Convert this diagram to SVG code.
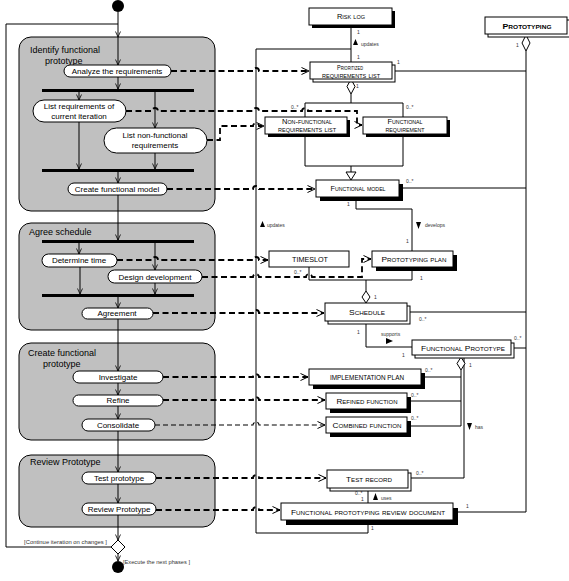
<svg xmlns="http://www.w3.org/2000/svg" width="569" height="581" viewBox="0 0 569 581">
<defs>
<style>
.grp{fill:#c0c0c0;stroke:#000;stroke-width:1}
.pill{fill:#fff;stroke:#000;stroke-width:1}
.bar{fill:#000}
.flow{fill:none;stroke:#000;stroke-width:1}
.obj{fill:none;stroke:#000;stroke-width:1.8;stroke-dasharray:6 3.5}
.objt{fill:none;stroke:#000;stroke-width:1.1;stroke-dasharray:5 3}
.assoc{fill:none;stroke:#000;stroke-width:1}
.box{fill:#fff;stroke:#000;stroke-width:1}
.back{fill:#fff;stroke:#000;stroke-width:1}
.shadow{fill:#000}
.dia{fill:#fff;stroke:#000;stroke-width:1}
.t{font-family:"Liberation Sans",Arial,sans-serif;font-size:8px;fill:#000}
.a{text-anchor:middle}
.gt{font-family:"Liberation Sans",Arial,sans-serif;font-size:9px;fill:#000}
.c{font-family:"Liberation Sans",Arial,sans-serif;font-size:8px;font-variant:small-caps;text-anchor:middle;fill:#000}
.c2{font-family:"Liberation Sans",Arial,sans-serif;font-size:7px;font-variant:small-caps;text-anchor:middle;fill:#000}
.m{font-family:"Liberation Sans",Arial,sans-serif;font-size:5px;fill:#333}
.g{font-family:"Liberation Sans",Arial,sans-serif;font-size:5.5px;fill:#333}
</style>
<marker id="fa" viewBox="0 0 6 6" refX="6" refY="3" markerWidth="6" markerHeight="6" orient="auto" markerUnits="userSpaceOnUse"><path d="M0.5,0.5 L6,3 L0.5,5.5" fill="none" stroke="#000" stroke-width="0.8"/></marker>
<marker id="oa" viewBox="0 0 8 8" refX="8" refY="4" markerWidth="8" markerHeight="8" orient="auto" markerUnits="userSpaceOnUse"><path d="M0.5,0.5 L8,4 L0.5,7.5" fill="none" stroke="#000" stroke-width="1"/></marker>
</defs>
<rect width="569" height="581" fill="#fff"/>

<!-- swimlane groups -->
<g id="group-identify">
<rect class="grp" x="19" y="37" width="196" height="174" rx="12"/>
<text class="gt" x="30" y="53">Identify functional</text>
<text class="gt" x="45" y="64">prototype</text>
</g>
<g id="group-agree">
<rect class="grp" x="19" y="223" width="196" height="107" rx="12"/>
<text class="gt" x="29" y="235">Agree schedule</text>
</g>
<g id="group-create">
<rect class="grp" x="19" y="343" width="196" height="97" rx="12"/>
<text class="gt" x="28" y="356">Create functional</text>
<text class="gt" x="43" y="367">prototype</text>
</g>
<g id="group-review">
<rect class="grp" x="19" y="455" width="196" height="72" rx="12"/>
<text class="gt" x="30" y="465">Review Prototype</text>
</g>

<g id="connectors">
<!-- control flow -->
<path class="flow" d="M111,547 H6 V24 H118"/>
<path class="flow" d="M118,12 V37" marker-end="url(#fa)"/>
<path class="flow" d="M118,37 V65" marker-end="url(#fa)"/>
<path class="flow" d="M118,77 V89" marker-end="url(#fa)"/>
<path class="flow" d="M79,92 V100" marker-end="url(#fa)"/>
<path class="flow" d="M155,92 V128" marker-end="url(#fa)"/>
<path class="flow" d="M79,122 V169" marker-end="url(#fa)"/>
<path class="flow" d="M155,153 V169" marker-end="url(#fa)"/>
<path class="flow" d="M118,172 V183" marker-end="url(#fa)"/>
<path class="flow" d="M118,195 V240" marker-end="url(#fa)"/>
<path class="flow" d="M79,243 V254" marker-end="url(#fa)"/>
<path class="flow" d="M155,243 V270" marker-end="url(#fa)"/>
<path class="flow" d="M80,267 V294" marker-end="url(#fa)"/>
<path class="flow" d="M155,283 V294" marker-end="url(#fa)"/>
<path class="flow" d="M118,297 V308" marker-end="url(#fa)"/>
<path class="flow" d="M118,319 V371" marker-end="url(#fa)"/>
<path class="flow" d="M118,383 V395" marker-end="url(#fa)"/>
<path class="flow" d="M118,406 V419" marker-end="url(#fa)"/>
<path class="flow" d="M118,431 V472" marker-end="url(#fa)"/>
<path class="flow" d="M118,484 V503" marker-end="url(#fa)"/>
<path class="flow" d="M118,515 V540" marker-end="url(#fa)"/>
<path class="flow" d="M118,554 V561" marker-end="url(#fa)"/>

<!-- associations -->
<path class="assoc" d="M351,25 V62"/>
<path class="assoc" d="M351,49 H256 V533 H368 V520"/>
<path class="assoc" d="M395,71 H526"/>
<path class="assoc" d="M526,51 V512 H458"/>
<path class="assoc" d="M351,94 V103"/>
<path class="assoc" d="M305,103 H403 V166 H305 Z"/>
<path class="assoc" d="M351,166 V172"/>
<polygon class="dia" points="346,172 356,172 351,180"/>
<path class="assoc" d="M403,188 H526"/>
<path class="assoc" d="M356,201 V209 H412 V251"/>
<path class="assoc" d="M309,267 V280 H412 V271"/>
<path class="assoc" d="M366,280 V291"/>
<path class="assoc" d="M410,312 H526"/>
<path class="assoc" d="M366,324 V347 H412"/>
<path class="assoc" d="M514,348 H526"/>
<path class="assoc" d="M461,370 V426"/>
<path class="assoc" d="M425,377 H461"/>
<path class="assoc" d="M411,401 H461"/>
<path class="assoc" d="M411,426 H461"/>
<path class="assoc" d="M464,358 V478 H411"/>
<path class="assoc" d="M368,491 V503"/>
<polygon class="dia" points="526,35 530,43 526,51 522,43"/>
<polygon class="dia" points="351,79 355,86.5 351,94 347,86.5"/>
<polygon class="dia" points="366,291 370,297 366,303 362,297"/>
<polygon class="dia" points="461,357 465,363.5 461,370 457,363.5"/>

<!-- object flows -->
<path class="obj" d="M171,71 H253 A3,3 0 0 1 259,71 H309" marker-end="url(#oa)"/>
<path class="obj" d="M126,111 H152 A3,3 0 0 1 158,111 H253 A3,3 0 0 1 259,111 H302 A3,3 0 0 1 308,111 H357 V125 H362" marker-end="url(#oa)"/>
<path class="obj" d="M207,140 H220 V126 H253 A3,3 0 0 1 259,126 H264" marker-end="url(#oa)"/>
<path class="obj" d="M167,189 H253 A3,3 0 0 1 259,189 H315" marker-end="url(#oa)"/>
<path class="obj" d="M117,260 H152 A3,3 0 0 1 158,260 H253 A3,3 0 0 1 259,260 H268" marker-end="url(#oa)"/>
<path class="obj" d="M202,277 H253 A3,3 0 0 1 259,277 H306 A3,3 0 0 1 312,277 H362 V259 H371" marker-end="url(#oa)"/>
<path class="obj" d="M153,313 H253 A3,3 0 0 1 259,313 H324" marker-end="url(#oa)"/>
<path class="obj" d="M163,377 H253 A3,3 0 0 1 259,377 H308" marker-end="url(#oa)"/>
<path class="obj" d="M163,400 H253 A3,3 0 0 1 259,400 H325" marker-end="url(#oa)"/>
<path class="objt" d="M155,425 H253 A3,3 0 0 1 259,425 H325" marker-end="url(#oa)"/>
<path class="obj" d="M156,478 H253 A3,3 0 0 1 259,478 H326" marker-end="url(#oa)"/>
<path class="obj" d="M156,510 H253 A3,3 0 0 1 259,510 H280" marker-end="url(#oa)"/>

<!-- association labels & multiplicities -->
<polygon points="353,45 355.5,39 358,45" fill="#000"/>
<text class="m" x="361" y="46">updates</text>
<text class="m" x="357" y="34">1</text>
<text class="m" x="357" y="59">1</text>
<text class="m" x="397" y="64">1</text>
<text class="m" x="356" y="88">1</text>
<text class="m" x="291" y="109">0..*</text>
<text class="m" x="406" y="109">0..*</text>
<text class="m" x="406" y="183">0..*</text>
<text class="m" x="347" y="206">1</text>
<text class="m" x="516" y="47">1</text>
<polygon points="260,227 262.5,221 265,227" fill="#000"/>
<text class="m" x="267" y="227">updates</text>
<polygon points="416,222 421,222 418.5,229" fill="#000"/>
<text class="m" x="425" y="227">develops</text>
<text class="m" x="406" y="243">1</text>
<text class="m" x="294" y="274">0..*</text>
<text class="m" x="420" y="280">1</text>
<text class="m" x="374" y="299">1</text>
<text class="m" x="419" y="321">0..*</text>
<text class="m" x="357" y="334">1</text>
<text class="m" x="381" y="336">supports</text>
<polygon points="386,338 386,344 393,341" fill="#000"/>
<text class="m" x="402" y="357">1</text>
<text class="m" x="514" y="340">0..*</text>
<text class="m" x="469" y="367">1</text>
<text class="m" x="425" y="372">0..*</text>
<text class="m" x="411" y="397">0..*</text>
<text class="m" x="411" y="420">0..*</text>
<polygon points="467,423 472,423 469.5,430" fill="#000"/>
<text class="m" x="475" y="429">has</text>
<text class="m" x="416" y="475">0..*</text>
<text class="m" x="355" y="495">0..*</text>
<text class="m" x="361" y="501">1</text>
<polygon points="373,500 375.5,493 378,500" fill="#000"/>
<text class="m" x="381" y="500">uses</text>
<text class="m" x="466" y="508">1</text>
<text class="m" x="371" y="530">1</text>

<!-- guards -->
<text class="g" x="24" y="544" textLength="83" lengthAdjust="spacingAndGlyphs">[Continue iteration on changes ]</text>
<text class="g" x="123" y="564" textLength="67" lengthAdjust="spacingAndGlyphs">[Execute the next phases ]</text>
</g>

<!-- activity nodes -->
<g id="start"><circle cx="118" cy="6" r="6" fill="#000"/></g>
<g id="bar-fork1"><rect class="bar" x="42" y="89" width="152" height="3"/></g>
<g id="bar-join1"><rect class="bar" x="42" y="169" width="152" height="3"/></g>
<g id="bar-fork2"><rect class="bar" x="42" y="240" width="152" height="3"/></g>
<g id="bar-join2"><rect class="bar" x="42" y="294" width="152" height="3"/></g>
<g id="act-analyze"><rect class="pill" x="64" y="65" width="107" height="12" rx="6"/><text class="t a" x="117" y="74">Analyze the requirements</text></g>
<g id="act-listreq"><rect class="pill" x="33" y="100" width="93" height="22" rx="11"/><text class="t a" x="79" y="109">List requirements of</text><text class="t a" x="79" y="119">current iteration</text></g>
<g id="act-listnf"><rect class="pill" x="104" y="128" width="103" height="25" rx="12.5"/><text class="t a" x="155" y="138">List non-functional</text><text class="t a" x="155" y="148">requirements</text></g>
<g id="act-createfm"><rect class="pill" x="68" y="183" width="99" height="12" rx="6"/><text class="t a" x="117" y="192">Create functional model</text></g>
<g id="act-determine"><rect class="pill" x="42" y="254" width="75" height="13" rx="6.5"/><text class="t a" x="79" y="263">Determine time</text></g>
<g id="act-design"><rect class="pill" x="108" y="270" width="94" height="13" rx="6.5"/><text class="t a" x="155" y="280">Design development</text></g>
<g id="act-agreement"><rect class="pill" x="82" y="308" width="71" height="11" rx="5.5"/><text class="t a" x="117" y="316">Agreement</text></g>
<g id="act-investigate"><rect class="pill" x="73" y="371" width="90" height="12" rx="6"/><text class="t a" x="118" y="380">Investigate</text></g>
<g id="act-refine"><rect class="pill" x="73" y="395" width="90" height="11" rx="5.5"/><text class="t a" x="118" y="403">Refine</text></g>
<g id="act-consolidate"><rect class="pill" x="82" y="419" width="73" height="12" rx="6"/><text class="t a" x="118" y="428">Consolidate</text></g>
<g id="act-test"><rect class="pill" x="82" y="472" width="74" height="12" rx="6"/><text class="t a" x="119" y="481">Test prototype</text></g>
<g id="act-review"><rect class="pill" x="82" y="503" width="74" height="12" rx="6"/><text class="t a" x="119" y="512">Review Prototype</text></g>
<g id="decision"><polygon class="dia" points="118,540 125,547 118,554 111,547"/></g>
<g id="end"><circle cx="118" cy="567" r="6" fill="#000"/></g>

<!-- class nodes -->
<g id="cls-risklog"><rect class="shadow" x="312" y="11" width="83" height="17"/><rect class="box" x="309" y="8" width="83" height="17"/><text class="c" x="351" y="19" textLength="28" lengthAdjust="spacingAndGlyphs">Risk log</text></g>
<g id="cls-prototyping"><rect class="back" x="488" y="20" width="82" height="17"/><rect class="box" x="485" y="17" width="82" height="17"/><text class="c" x="527" y="29" textLength="49" lengthAdjust="spacingAndGlyphs" font-weight="bold">Prototyping</text></g>
<g id="cls-prioritized"><rect class="back" x="313" y="65" width="82" height="17"/><rect class="box" x="310" y="62" width="82" height="17"/><text class="c2" x="350" y="70" textLength="26" lengthAdjust="spacingAndGlyphs">Prioritized</text><text class="c2" x="351" y="78" textLength="58" lengthAdjust="spacingAndGlyphs">requirements list</text></g>
<g id="cls-nflist"><rect class="shadow" x="268" y="120" width="82" height="17"/><rect class="box" x="265" y="117" width="82" height="17"/><text class="c2" x="307" y="124" textLength="50" lengthAdjust="spacingAndGlyphs">Non-functional</text><text class="c2" x="307" y="132" textLength="58" lengthAdjust="spacingAndGlyphs">requirements list</text></g>
<g id="cls-freq"><rect class="shadow" x="366" y="120" width="84" height="17"/><rect class="box" x="363" y="117" width="84" height="17"/><text class="c2" x="405" y="124" textLength="35" lengthAdjust="spacingAndGlyphs">Functional</text><text class="c2" x="405" y="132" textLength="39" lengthAdjust="spacingAndGlyphs">requirement</text></g>
<g id="cls-fmodel"><rect class="shadow" x="320" y="184" width="83" height="17"/><rect class="box" x="316" y="180" width="83" height="17"/><text class="c2" x="358" y="191" textLength="55" lengthAdjust="spacingAndGlyphs">Functional model</text></g>
<g id="cls-timeslot"><rect class="box" x="269" y="251" width="80" height="16"/><text class="c" x="310" y="262" textLength="36" lengthAdjust="spacingAndGlyphs">TIMESLOT</text></g>
<g id="cls-pplan"><rect class="shadow" x="376" y="255" width="81" height="16"/><rect class="box" x="372" y="251" width="81" height="16"/><text class="c" x="414" y="262" textLength="65" lengthAdjust="spacingAndGlyphs">Prototyping plan</text></g>
<g id="cls-schedule"><rect class="back" x="328" y="306" width="82" height="18"/><rect class="box" x="325" y="303" width="82" height="18"/><text class="c" x="367" y="315" textLength="36" lengthAdjust="spacingAndGlyphs">Schedule</text></g>
<g id="cls-fproto"><rect class="back" x="415" y="343" width="99" height="15"/><rect class="box" x="412" y="340" width="99" height="15"/><text class="c" x="463" y="351" textLength="84" lengthAdjust="spacingAndGlyphs">Functional Prototype</text></g>
<g id="cls-implplan"><rect class="shadow" x="313" y="373" width="112" height="16"/><rect class="box" x="309" y="369" width="112" height="16"/><text class="c" x="367" y="380" textLength="74" lengthAdjust="spacingAndGlyphs">IMPLEMENTATION PLAN</text></g>
<g id="cls-refined"><rect class="shadow" x="330" y="397" width="81" height="16"/><rect class="box" x="326" y="393" width="81" height="16"/><text class="c" x="367" y="404" textLength="61" lengthAdjust="spacingAndGlyphs">Refined function</text></g>
<g id="cls-combined"><rect class="shadow" x="330" y="421" width="81" height="16"/><rect class="box" x="326" y="417" width="81" height="16"/><text class="c" x="367" y="428" textLength="69" lengthAdjust="spacingAndGlyphs">Combined function</text></g>
<g id="cls-testrec"><rect class="back" x="330" y="473" width="81" height="18"/><rect class="box" x="327" y="470" width="81" height="18"/><text class="c" x="369" y="482" textLength="46" lengthAdjust="spacingAndGlyphs">Test record</text></g>
<g id="cls-fprd"><rect class="shadow" x="286" y="508" width="172" height="17"/><rect class="box" x="281" y="503" width="172" height="17"/><text class="c" x="368" y="515" textLength="154" lengthAdjust="spacingAndGlyphs">Functional prototyping review document</text></g>
</svg>
